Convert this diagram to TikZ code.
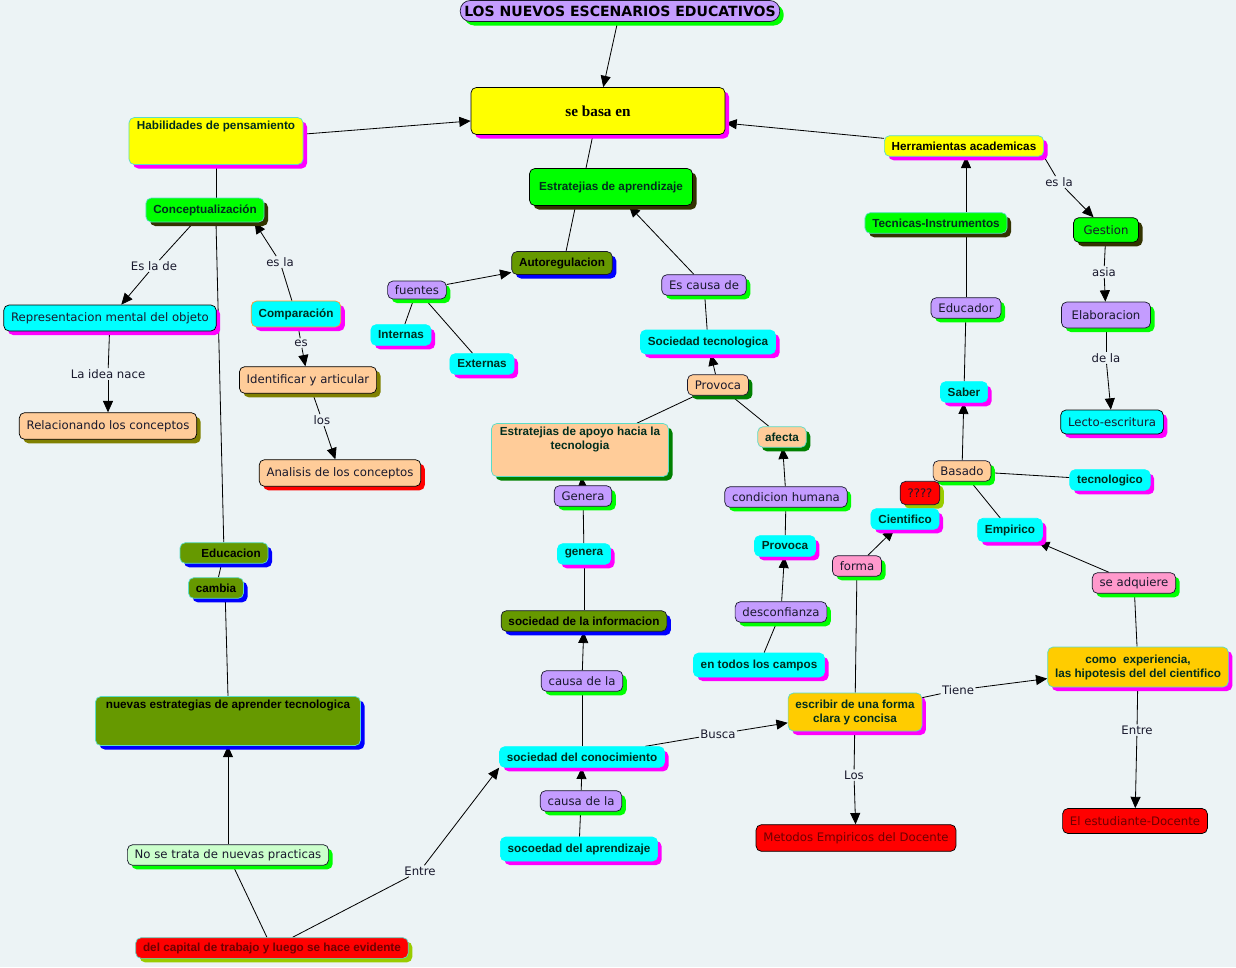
\documentclass[tikz,border=0pt]{standalone}
\usepackage{fontspec}
\setmainfont{DejaVu Sans}
\newfontfamily\cmapbf{Liberation Sans}
\newfontfamily\cmapserif{Liberation Serif}
\usetikzlibrary{
  arrows.meta, shadows, backgrounds
}
\pgfdeclarelayer{edges}
\pgfsetlayers{background,edges,main}

\definecolor{bgcol}{RGB}{236,243,245}
\definecolor{ink}{RGB}{25,25,45}
\definecolor{lav}{RGB}{196,156,255}
\definecolor{grn}{RGB}{0,255,0}
\definecolor{dkgrn}{RGB}{0,128,0}
\definecolor{ygrn}{RGB}{153,204,0}
\definecolor{dkolive}{RGB}{51,51,0}
\definecolor{olive}{RGB}{128,128,0}
\definecolor{oliv}{RGB}{102,153,0}
\definecolor{peach}{RGB}{255,204,153}
\definecolor{gold}{RGB}{255,204,0}
\definecolor{pink}{RGB}{255,153,204}
\definecolor{mint}{RGB}{204,255,204}
\definecolor{cyn}{RGB}{0,255,255}
\definecolor{mgnt}{RGB}{255,0,255}
\definecolor{yel}{RGB}{255,255,0}
\definecolor{rd}{RGB}{255,0,0}
\definecolor{blu}{RGB}{0,0,255}
\definecolor{rimcyan}{RGB}{90,220,200}
\definecolor{rimorange}{RGB}{255,153,51}
\definecolor{txtdk}{RGB}{0,45,30}
\definecolor{txtred}{RGB}{110,0,0}

\tikzset{
  box/.style 2 args={rectangle, rounded corners=1.6mm, fill=#1, draw=#2, line width=0.6pt,
    inner xsep=2.2mm, inner ysep=1mm, minimum height=6.2mm},
  shd/.style={drop shadow={shadow xshift=1.2mm, shadow yshift=-1.2mm, fill=#1, opacity=1}},
  reg/.style={font=\fontsize{10}{12}\selectfont, text=ink},
  bld/.style={font=\fontsize{10}{12}\selectfont\cmapbf\bfseries, text=txtdk},
  lbl/.style={inner sep=1pt, font=\fontsize{10}{12}\selectfont, text=ink},
  link/.style={line width=0.7pt, draw=black},
  arr/.style={link, ->}
}
\newcommand{\toptext}[3]{\parbox[c][#1][t]{#2}{\centering #3}}

\begin{document}
\begin{tikzpicture}[>={Triangle[length=3.4mm, width=3mm]}, x=0.03cm, y=-0.03cm]
  \useasboundingbox (0,0) rectangle (1236,967);
  \begin{pgfonlayer}{background}
    \fill[bgcol] (0,0) rectangle (1236,967);
  \end{pgfonlayer}

  % concepts
  \node[box={lav}{ink}, shd=grn, rounded corners=3mm, inner xsep=1.2mm, minimum height=6.3mm, font=\fontsize{12}{14}\selectfont\bfseries] (title) at (620,11) {LOS NUEVOS ESCENARIOS EDUCATIVOS};
  \node[box={yel}{black}, shd=mgnt, minimum width=7.62cm, minimum height=1.41cm, font=\fontsize{13}{15}\selectfont\cmapserif\bfseries] (sebasa) at (598,111) {se basa en};
  \node[box={yel}{rimcyan}, shd=mgnt, bld] (habil) at (216,141) {\toptext{1.21cm}{4.78cm}{Habilidades de pensamiento}};
  \node[box={grn}{rimcyan}, shd=dkolive, bld, minimum height=7.2mm] (concep) at (205,210) {Conceptualización};
  \node[box={cyn}{black}, shd=mgnt, reg, minimum height=7.8mm] (repr) at (110,318) {Representacion mental del objeto};
  \node[box={peach}{black}, shd=olive, reg, minimum height=8mm] (relac) at (108,426) {Relacionando los conceptos};
  \node[box={cyn}{rimorange}, shd=mgnt, bld, minimum height=7.8mm] (compar) at (296,314) {Comparación};
  \node[box={peach}{black}, shd=olive, reg, minimum height=8mm] (ident) at (308,380) {Identificar y articular};
  \node[box={peach}{black}, shd=rd, reg, minimum height=8mm] (analis) at (340,473) {Analisis de los conceptos};
  \node[box={grn}{black}, shd=dkolive, bld, minimum width=4.89cm, minimum height=1.11cm] (estrat) at (611,187) {Estratejias de aprendizaje};
  \node[box={oliv}{ink}, shd=blu, bld, text=black, minimum height=6.9mm] (autoreg) at (562,263) {Autoregulacion};
  \node[box={lav}{ink}, shd=grn, reg, minimum height=5.4mm] (fuentes) at (417,290) {fuentes};
  \node[box={cyn}{cyn}, shd=mgnt, bld] (intern) at (401,335) {Internas};
  \node[box={cyn}{cyn}, shd=mgnt, bld] (extern) at (482,364) {Externas};
  \node[box={lav}{ink}, shd=grn, reg] (escausa) at (704,285) {Es causa de};
  \node[box={cyn}{cyn}, shd=mgnt, bld, minimum height=7.2mm] (soctec) at (708,342) {Sociedad tecnologica};
  \node[box={peach}{ink}, shd=dkgrn, reg] (provoca) at (718,385) {Provoca};
  \node[box={peach}{rimcyan}, shd=dkgrn, bld] (apoyo) at (580,450) {\toptext{1.39cm}{4.87cm}{Estratejias de apoyo hacia la\\tecnologia}};
  \node[box={peach}{rimcyan}, shd=dkgrn, bld] (afecta) at (782,437) {afecta};
  \node[box={lav}{ink}, shd=grn, reg] (genera1) at (583,496) {Genera};
  \node[box={lav}{ink}, shd=grn, reg] (condic) at (786,497) {condicion humana};
  \node[box={cyn}{cyn}, shd=mgnt, bld] (genera2) at (584,554) {genera};
  \node[box={cyn}{cyn}, shd=mgnt, bld] (provoca2) at (785,546) {Provoca};
  \node[box={lav}{ink}, shd=grn, reg] (desconf) at (781,612) {desconfianza};
  \node[box={oliv}{ink}, shd=blu, bld, text=black] (sinfo) at (584,621) {sociedad de la informacion};
  \node[box={cyn}{cyn}, shd=mgnt, bld, minimum height=7.2mm] (campos) at (759,665) {en todos los campos};
  \node[box={lav}{ink}, shd=grn, reg] (causa1) at (582,681) {causa de la};
  \node[box={cyn}{cyn}, shd=mgnt, bld] (sconoc) at (582,757) {sociedad del conocimiento};
  \node[box={lav}{ink}, shd=grn, reg] (causa2) at (581,801) {causa de la};
  \node[box={cyn}{cyn}, shd=mgnt, bld, minimum height=7.2mm] (saprend) at (579,849) {socoedad del aprendizaje};
  \node[box={yel}{rimcyan}, shd=mgnt, bld, text=black] (herram) at (964,146) {Herramientas academicas};
  \node[box={grn}{rimcyan}, shd=dkolive, bld] (tecnicas) at (936,223) {Tecnicas-Instrumentos};
  \node[box={grn}{black}, shd=dkolive, reg, minimum height=7.4mm, minimum width=1.95cm] (gestion) at (1106,230) {Gestion};
  \node[box={lav}{ink}, shd=grn, reg] (educador) at (966,308) {Educador};
  \node[box={lav}{ink}, shd=grn, reg, minimum height=7.8mm, minimum width=2.67cm] (elabor) at (1106,315) {Elaboracion};
  \node[box={cyn}{cyn}, shd=mgnt, bld] (saber) at (964,392) {Saber};
  \node[box={cyn}{black}, shd=mgnt, reg, minimum height=7.2mm] (lecto) at (1112,422) {Lecto-escritura};
  \node[box={peach}{ink}, shd=grn, reg] (basado) at (962,471) {Basado};
  \node[box={cyn}{cyn}, shd=mgnt, bld] (tecnol) at (1110,480) {tecnologico};
  \node[box={rd}{ink}, shd=ygrn, reg, minimum height=7mm] (quest) at (920,493) {????};
  \node[box={cyn}{cyn}, shd=mgnt, bld] (cientif) at (905,519) {Cientifico};
  \node[box={cyn}{cyn}, shd=mgnt, bld, minimum height=7mm] (empir) at (1010,530) {Empirico};
  \node[box={pink}{ink}, shd=grn, reg] (forma) at (857,566) {forma};
  \node[box={pink}{ink}, shd=grn, reg] (seadq) at (1134,583) {se adquiere};
  \node[box={gold}{rimcyan}, shd=mgnt, bld, align=center, minimum height=1.14cm] (escrib) at (855,712) {escribir de una forma\\clara y concisa};
  \node[box={gold}{rimcyan}, shd=mgnt, bld, align=center, minimum height=1.2cm] (exper) at (1138,667) {como~~experiencia,\\las hipotesis del del cientifico};
  \node[box={rd}{black}, reg, text=txtred, minimum height=8mm] (metodos) at (856,838) {Metodos Empiricos del Docente};
  \node[box={rd}{black}, reg, text=txtred, minimum height=7.5mm] (estud) at (1135,821) {El estudiante-Docente};
  \node[box={oliv}{rimcyan}, shd=blu, bld, text=black, text width=2.2cm, align=right] (educ) at (224,553) {Educacion};
  \node[box={oliv}{rimcyan}, shd=blu, bld, text=black] (cambia) at (216,588) {cambia};
  \node[box={oliv}{rimcyan}, shd=blu, bld, text=black] (nuevas) at (228,721) {\toptext{1.27cm}{7.51cm}{nuevas estrategias de aprender tecnologica}};
  \node[box={mint}{ink}, shd=grn, reg] (noprac) at (228,855) {No se trata de nuevas practicas};
  \node[box={rd}{rimcyan}, shd=ygrn, bld, text=txtred] (capital) at (272,948) {del capital de trabajo y luego se hace evidente};

  % linking phrases
  \node[lbl] (lesde) at (154,266) {Es la de};
  \node[lbl] (lesla1) at (280,262) {es la};
  \node[lbl] (lidea) at (108,374) {La idea nace};
  \node[lbl] (les) at (301,343) {es};
  \node[lbl] (llos) at (322,420) {los};
  \node[lbl] (lesla2) at (1059,182) {es la};
  \node[lbl] (lasia) at (1104,272) {asia};
  \node[lbl] (ldela) at (1106,358) {de la};
  \node[lbl] (ltiene) at (958,690) {Tiene};
  \node[lbl] (lbusca) at (718,734) {Busca};
  \node[lbl] (llos2) at (854,775) {Los};
  \node[lbl] (lentre1) at (1137,730) {Entre};
  \node[lbl] (lentre2) at (420,871) {Entre};

  \begin{pgfonlayer}{edges}
    \draw[arr] (title) -- (sebasa);
    \draw[arr] (habil) -- (sebasa);
    \draw[arr] (herram) -- (sebasa);
    \draw[link] (sebasa.258) -- (estrat.143);
    \draw[link] (estrat.208) -- (autoreg.71);
    \draw[arr] (escausa) -- (estrat);
    \draw[link] (escausa) -- (soctec);
    \draw[arr] (provoca) -- (soctec);
    \draw[link] (provoca) -- (apoyo);
    \draw[link] (provoca) -- (afecta);
    \draw[arr] (fuentes) -- (autoreg);
    \draw[link] (fuentes) -- (intern);
    \draw[link] (fuentes) -- (extern);
    \draw[arr] (genera1) -- (apoyo);
    \draw[link] (genera2) -- (genera1);
    \draw[link] (sinfo) -- (genera2);
    \draw[arr] (causa1) -- (sinfo);
    \draw[link] (sconoc) -- (causa1);
    \draw[arr] (causa2) -- (sconoc);
    \draw[link] (saprend) -- (causa2);
    \draw[arr] (condic) -- (afecta);
    \draw[link] (provoca2) -- (condic);
    \draw[arr] (desconf) -- (provoca2);
    \draw[link] (campos) -- (desconf);
    \draw[arr] (tecnicas.north -| educador) -- (herram.south -| educador);
    \draw[link] (educador) -- (tecnicas.south -| educador);
    \draw[link] (saber) -- (educador);
    \draw[arr] (basado) -- (saber);
    \draw[link] (basado) -- (tecnol);
    \draw[link] (basado) -- (quest);
    \draw[link] (basado) -- (empir);
    \draw[arr] (forma) -- (cientif);
    \draw[link] (escrib) -- (forma);
    \draw[arr] (seadq) -- (empir);
    \draw[link] (exper) -- (seadq);
    \draw[link] (escrib) -- (ltiene);
    \draw[arr] (ltiene) -- (exper);
    \draw[link] (sconoc) -- (lbusca);
    \draw[arr] (lbusca) -- (escrib);
    \draw[link] (escrib) -- (llos2);
    \draw[arr] (llos2) -- (metodos);
    \draw[link] (exper) -- (lentre1);
    \draw[arr] (lentre1) -- (estud);
    \draw[link] (capital) -- (lentre2);
    \draw[arr] (lentre2) -- (sconoc.south west);
    \draw[link] (capital) -- (noprac);
    \draw[arr] (noprac) -- (nuevas);
    \draw[link] (cambia.311) -- (nuevas.north);
    \draw[link] (educ) -- (cambia);
    \draw[link] (concep.south -| habil) -- (educ);
    \draw[link] (habil) -- (concep.north -| habil);
    \draw[link] (concep) -- (lesde);
    \draw[arr] (lesde) -- (repr);
    \draw[link] (compar) -- (lesla1);
    \draw[arr] (lesla1) -- (concep.346);
    \draw[link] (compar) -- (les);
    \draw[arr] (les) -- (ident);
    \draw[link] (ident) -- (llos);
    \draw[arr] (llos) -- (analis);
    \draw[link] (repr) -- (lidea);
    \draw[arr] (lidea) -- (relac);
    \draw[link] (herram.south east) -- (lesla2);
    \draw[arr] (lesla2) -- (gestion);
    \draw[link] (gestion) -- (lasia);
    \draw[arr] (lasia) -- (elabor);
    \draw[link] (elabor) -- (ldela);
    \draw[arr] (ldela) -- (lecto);
  \end{pgfonlayer}
\end{tikzpicture}
\end{document}
